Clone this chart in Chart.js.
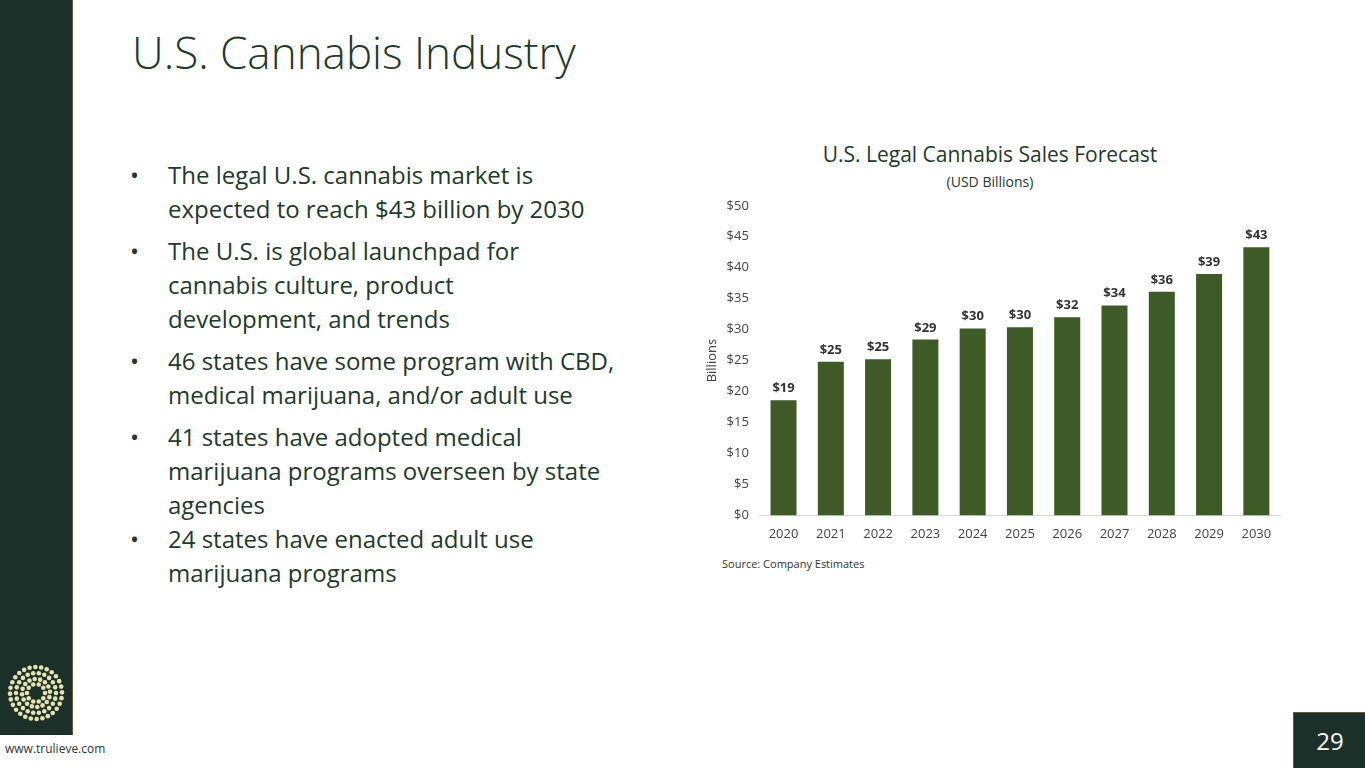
<!DOCTYPE html>
<html><head><meta charset="utf-8">
<script src="https://cdn.jsdelivr.net/npm/chart.js@4"></script>
<style>
body{margin:0;width:1365px;height:768px;background:#fff;font-family:"Open Sans",sans-serif;position:relative;overflow:hidden;color:#1e3a2c}
#side{position:absolute;left:0;top:0;width:72px;height:735px;background:#1b3028;border-right:1px solid #6b5a2a}
#logo{position:absolute;left:0;top:658px}
#url{position:absolute;left:5px;top:740px;font-size:12px;color:#333}
h1{position:absolute;left:132px;top:22px;margin:0;font-weight:300;font-size:44px;color:#1e3a2c}
ul{position:absolute;left:130px;top:158px;margin:0;padding:0;list-style:none;width:520px;font-size:24px;line-height:34px;color:#1e3a2c}
ul li{padding-left:38px;text-indent:-38px;margin-bottom:8px}
ul li:before{content:"•";display:inline-block;width:38px;text-indent:0}
#ct{position:absolute;left:690px;top:140px;width:600px;text-align:center;font-size:21px;color:#1e3a2c}
#cs{position:absolute;left:690px;top:172px;width:600px;text-align:center;font-size:14px;color:#1e3a2c}
#src{position:absolute;left:722px;top:556px;font-size:11px;color:#333}
#wrap{position:absolute;left:700px;top:195px;width:590px;height:350px}
#pg{position:absolute;left:1293px;top:712px;width:72px;height:56px;background:#1b3028;border-left:1px solid #6b5a2a;border-top:1px solid #6b5a2a;color:#fff;font-size:24px;text-align:center;line-height:56px}
</style></head><body>
<div id="side"></div>
<canvas id="logo" width="72" height="72"></canvas>
<div id="url">www.trulieve.com</div>
<h1>U.S. Cannabis Industry</h1>
<ul>
<li>The legal U.S. cannabis market is<br>expected to reach $43 billion by 2030</li>
<li>The U.S. is global launchpad for<br>cannabis culture, product<br>development, and trends</li>
<li>46 states have some program with CBD,<br>medical marijuana, and/or adult use</li>
<li style="margin-bottom:0">41 states have adopted medical<br>marijuana programs overseen by state<br>agencies</li>
<li>24 states have enacted adult use<br>marijuana programs</li>
</ul>
<div id="ct">U.S. Legal Cannabis Sales Forecast</div>
<div id="cs">(USD Billions)</div>
<div id="wrap"><canvas id="c"></canvas></div>
<div id="src">Source: Company Estimates</div>
<div id="pg">29</div>
<script>
const years = ['2020','2021','2022','2023','2024','2025','2026','2027','2028','2029','2030'];
const sales = [18.6, 24.8, 25.2, 28.4, 30.2, 30.4, 32.0, 33.9, 36.1, 39.0, 43.3];
const labels = ['$19','$25','$25','$29','$30','$30','$32','$34','$36','$39','$43'];

// logo dots
const lg = document.getElementById('logo').getContext('2d');
lg.fillStyle = '#e6e3b0';
[[9,10,0],[14,16,0.3],[20,22,0],[26,28,0.2]].forEach(([r,n,o])=>{
  for(let i=0;i<n;i++){const a=o+i*2*Math.PI/n;lg.beginPath();lg.arc(36+r*Math.cos(a),35+r*Math.sin(a),2.3,0,7);lg.fill();}
});

const valueLabels = {
  id:'valueLabels',
  afterDatasetsDraw(chart){
    const {ctx} = chart;
    ctx.save();
    ctx.font = 'bold 13px "Open Sans"';
    ctx.fillStyle = '#333';
    ctx.textAlign = 'center';
    chart.getDatasetMeta(0).data.forEach((b,i)=>ctx.fillText(labels[i], b.x, b.y-8));
    ctx.restore();
  }
};
new Chart(document.getElementById('c'), {
  type:'bar',
  data:{labels:years,datasets:[{data:sales,backgroundColor:'#3d5a27',barPercentage:0.55,categoryPercentage:1}]},
  options:{
    responsive:true,maintainAspectRatio:false,animation:false,
    layout:{padding:{top:8,right:10}},
    plugins:{legend:{display:false},tooltip:{enabled:false}},
    scales:{
      x:{grid:{display:false},border:{color:'#d9d9d9'},ticks:{color:'#444',font:{size:13,family:'Open Sans'}}},
      y:{min:0,max:50,grid:{display:false},border:{display:false},
         title:{display:true,text:'Billions',color:'#444',font:{size:13,family:'Open Sans'}},
         ticks:{stepSize:5,color:'#444',font:{size:13,family:'Open Sans'},callback:v=>'$'+v}}
    }
  },
  plugins:[valueLabels]
});
</script>
</body></html>
